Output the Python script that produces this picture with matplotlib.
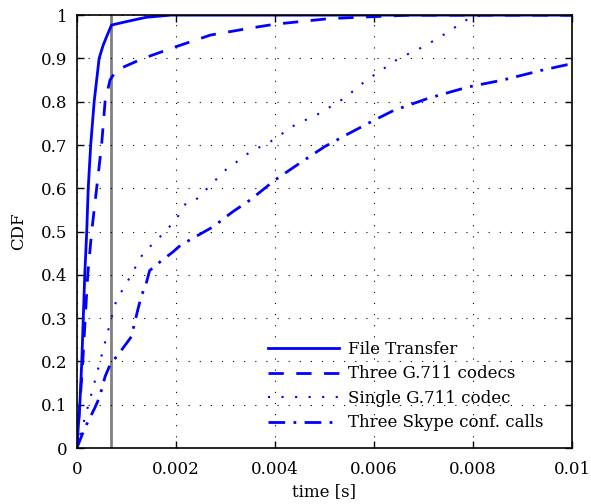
import matplotlib
matplotlib.use("Agg")
import matplotlib.pyplot as plt

# CDF curves (x in seconds)
ft_x = [0, 0.00006, 0.0001, 0.00013, 0.00016, 0.0002, 0.00023, 0.00028, 0.00035, 0.00045, 0.00053, 0.0006, 0.0007, 0.001, 0.0014, 0.0019, 0.01]
ft_y = [0, 0.1, 0.2, 0.3, 0.4, 0.5, 0.6, 0.7, 0.8, 0.9, 0.93, 0.95, 0.977, 0.985, 0.995, 1.0, 1.0]

g3_x = [0, 0.00006, 0.00012, 0.00017, 0.00022, 0.0003, 0.0004, 0.0005, 0.00057, 0.00067, 0.0008, 0.00134, 0.002, 0.0027, 0.0035, 0.004, 0.0051, 0.0059, 0.0067, 0.01]
g3_y = [0, 0.1, 0.2, 0.3, 0.4, 0.5, 0.6, 0.7, 0.8, 0.85, 0.873, 0.9, 0.927, 0.954, 0.97, 0.979, 0.992, 0.996, 1.0, 1.0]

g1_x = [0, 0.00016, 0.00033, 0.00046, 0.00067, 0.0008, 0.001, 0.00134, 0.00168, 0.002, 0.0022, 0.0024, 0.003, 0.0035, 0.0039, 0.0044, 0.0049, 0.0054, 0.00585, 0.0061, 0.0065, 0.007, 0.0075, 0.0078, 0.008, 0.0082, 0.01]
g1_y = [0, 0.069, 0.14, 0.196, 0.288, 0.342, 0.38, 0.45, 0.488, 0.527, 0.565, 0.573, 0.642, 0.684, 0.707, 0.746, 0.773, 0.808, 0.85, 0.869, 0.9, 0.927, 0.961, 0.985, 0.996, 1.0, 1.0]

sk_x = [0, 0.00016, 0.00036, 0.00046, 0.00057, 0.00067, 0.0009, 0.0011, 0.00123, 0.0013, 0.0014, 0.00147, 0.00168, 0.00194, 0.0021, 0.00275, 0.00315, 0.0035, 0.004, 0.0045, 0.005, 0.0055, 0.006, 0.0064, 0.0071, 0.0079, 0.0086, 0.0094, 0.01]
sk_y = [0, 0.046, 0.092, 0.118, 0.165, 0.192, 0.226, 0.257, 0.319, 0.35, 0.38, 0.41, 0.43, 0.453, 0.469, 0.511, 0.546, 0.573, 0.619, 0.658, 0.696, 0.727, 0.757, 0.78, 0.808, 0.834, 0.85, 0.873, 0.888]

marker_x = 0.0007

labels = ["File Transfer", "Three G.711 codecs", "Single G.711 codec", "Three Skype conf. calls"]

plt.rcParams["font.family"] = ["DejaVu Serif"]
plt.rcParams["font.size"] = 12

fig = plt.figure(figsize=(5.91, 5.04), dpi=100)
ax = fig.add_axes([0.130, 0.111, 0.838, 0.859])

blue = (0, 0, 1)
ax.axvline(marker_x, color="#808080", lw=2, zorder=1)
ax.plot(ft_x, ft_y, color=blue, lw=2, ls="-", label=labels[0])
ax.plot(g3_x, g3_y, color=blue, lw=2, ls=(0, (5.5, 4.5)), label=labels[1])
ax.plot(g1_x, g1_y, color=blue, lw=1.5, ls=(0, (1, 5.5)), label=labels[2])
ax.plot(sk_x, sk_y, color=blue, lw=2, ls=(0, (6, 3, 1, 3)), label=labels[3])

ax.set_xlim(0, 0.01)
ax.set_ylim(0, 1)
ax.set_xticks([0, 0.002, 0.004, 0.006, 0.008, 0.01])
ax.set_xticklabels(["0", "0.002", "0.004", "0.006", "0.008", "0.01"])
ax.set_yticks([i / 10 for i in range(11)])
ax.set_yticklabels(["0", "0.1", "0.2", "0.3", "0.4", "0.5", "0.6", "0.7", "0.8", "0.9", "1"])
ax.tick_params(direction="in", top=True, right=True, length=5, width=1)
ax.tick_params(axis="x", pad=9)
ax.tick_params(axis="y", pad=7)
ax.grid(True, color="black", ls=(0, (1, 9)), lw=0.8)
for s in ax.spines.values():
    s.set_linewidth(1.2)

ax.set_xlabel("time [s]", labelpad=4)
ax.set_ylabel("CDF", labelpad=10)

leg = ax.legend(loc="lower right", bbox_to_anchor=(0.975, 0.0), frameon=False,
                handlelength=4.3, handletextpad=0.5, labelspacing=0.45, borderaxespad=0.6)

fig.savefig("out.png", dpi=100)
